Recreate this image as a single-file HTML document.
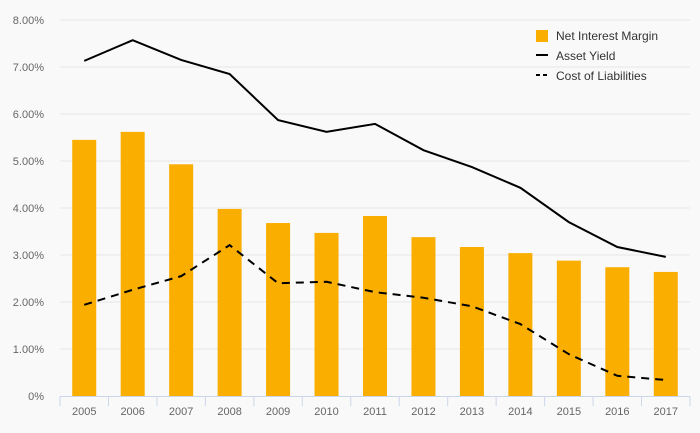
<!DOCTYPE html>
<html><head><meta charset="utf-8"><style>
body{margin:0;background:#f9f9f9;}
svg{display:block;font-family:"Liberation Sans",sans-serif;}
</style></head><body>
<svg id="c" width="700" height="433">
<rect width="700" height="433" fill="#f9f9f9"/>
<g id="grid"></g><g id="bars"></g><g id="lines"></g><g id="axes"></g>
<g font-size="12" fill="#333">
 <g><rect x="536" y="30" width="12" height="12" fill="#f9ae00"/><text x="556" y="40">Net Interest Margin</text></g>
 <g><line x1="536" y1="55" x2="548" y2="55" stroke="#000" stroke-width="2"/><text x="556" y="60">Asset Yield</text></g>
 <g><line x1="536" y1="75" x2="548" y2="75" stroke="#000" stroke-width="2" stroke-dasharray="4,3"/><text x="556" y="80">Cost of Liabilities</text></g>
</g>
</svg>
<script>
const categories=["2005","2006","2007","2008","2009","2010","2011","2012","2013","2014","2015","2016","2017"];
const netInterestMargin=[5.45,5.62,4.93,3.98,3.68,3.47,3.83,3.38,3.17,3.04,2.88,2.74,2.64];
const assetYield=[7.13,7.57,7.15,6.85,5.87,5.62,5.79,5.23,4.87,4.43,3.70,3.17,2.96];
const costOfLiabilities=[1.94,2.26,2.55,3.21,2.40,2.43,2.21,2.09,1.91,1.53,0.89,0.43,0.34];
const yTicks=[0,1,2,3,4,5,6,7,8];
const yTickLabels=["0%","1.00%","2.00%","3.00%","4.00%","5.00%","6.00%","7.00%","8.00%"];
const NS="http://www.w3.org/2000/svg";
const L=60,R=690,T=20,B=396;
const step=(R-L)/categories.length;
const x=i=>L+step*(i+0.5);
const y=v=>B-(v/8)*(B-T);
function mk(tag,attrs,parent){const e=document.createElementNS(NS,tag);for(const k in attrs)e.setAttribute(k,attrs[k]);document.getElementById(parent).appendChild(e);return e;}
yTicks.forEach((t,i)=>{
 if(t>0){const g=mk('line',{x1:L,x2:R,y1:y(t),y2:y(t),stroke:'#e6e6e6'},'grid');
 
 }
 const tx=mk('text',{x:44,y:y(t)+4,'text-anchor':'end','font-size':11,fill:'#666'},'axes');
 tx.textContent=yTickLabels[i];
 
 
});
categories.forEach((c,i)=>{
 const b=mk('rect',{x:x(i)-12,y:y(netInterestMargin[i]),width:24,height:B-y(netInterestMargin[i]),fill:'#f9ae00'},'bars');
 
 
 const tx=mk('text',{x:x(i),y:415,'text-anchor':'middle','font-size':11,fill:'#666'},'axes');
 tx.textContent=c;
 
 
});
for(let i=0;i<=categories.length;i++){
 const tk=mk('line',{x1:L+step*i,x2:L+step*i,y1:B,y2:B+10,stroke:'#ccd6eb'},'axes');
 
 
}
const ax=mk('line',{x1:L,x2:R,y1:B+0.5,y2:B+0.5,stroke:'#ccd6eb'},'axes');


const p1=mk('polyline',{points:assetYield.map((v,i)=>x(i)+','+y(v)).join(' '),fill:'none',stroke:'#000','stroke-width':2},'lines');


const p2=mk('polyline',{points:costOfLiabilities.map((v,i)=>x(i)+','+y(v)).join(' '),fill:'none',stroke:'#000','stroke-width':2,'stroke-dasharray':'8,6'},'lines');


</script>
</body></html>
